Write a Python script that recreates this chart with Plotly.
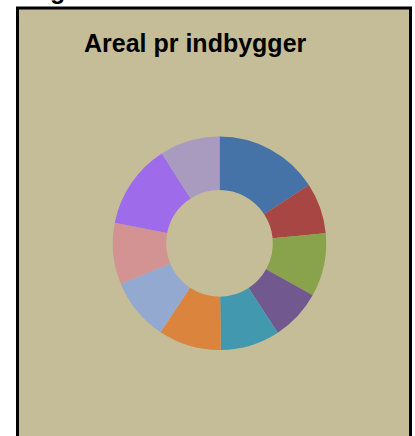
import plotly.graph_objects as go

W, H = 415, 436

title_text = "Areal pr indbygger"
categories = ["Område 1", "Område 2", "Område 3", "Område 4", "Område 5",
              "Område 6", "Område 7", "Område 8", "Område 9", "Område 10"]
values = [15.8, 7.7, 9.6, 7.7, 9.0, 9.5, 9.5, 9.3, 12.8, 9.1]
colors = ["#4572A7", "#A84644", "#89A34D", "#71588F", "#4299AF",
          "#DB843D", "#94A9D0", "#D29392", "#9E6BEA", "#A99BC0"]

bg = "#C4BD97"

fig = go.Figure()
fig.add_trace(go.Pie(
    labels=categories,
    values=values,
    hole=0.5,
    sort=False,
    direction="clockwise",
    rotation=0,
    textinfo="none",
    marker=dict(colors=colors, line=dict(width=0)),
    showlegend=False,
    domain=dict(x=[112.8 / W, 326.2 / W], y=[1 - 350 / H, 1 - 136.6 / H]),
))

fig.add_shape(type="rect", xref="paper", yref="paper",
              x0=17.5 / W, x1=410.5 / W, y0=-0.1, y1=1 - 8 / H,
              line=dict(color="black", width=3), fillcolor=bg, layer="below")

fig.add_annotation(text="<b>" + title_text + "</b>", xref="paper", yref="paper",
                   x=195 / W, y=1 - 43 / H, xanchor="center", yanchor="middle",
                   showarrow=False,
                   font=dict(family="Liberation Sans", size=25, color="black"))

fig.add_annotation(text="<b>g</b>", xref="paper", yref="paper",
                   x=57 / W, y=1 + 10 / H, xanchor="center", yanchor="middle",
                   showarrow=False,
                   font=dict(family="Liberation Sans", size=25, color="black"))

fig.update_layout(width=W, height=H, margin=dict(l=0, r=0, t=0, b=0),
                  paper_bgcolor="white", plot_bgcolor="white")

fig.write_html("out.html", config={"displayModeBar": False},
               post_script="document.body.style.margin='0';")
